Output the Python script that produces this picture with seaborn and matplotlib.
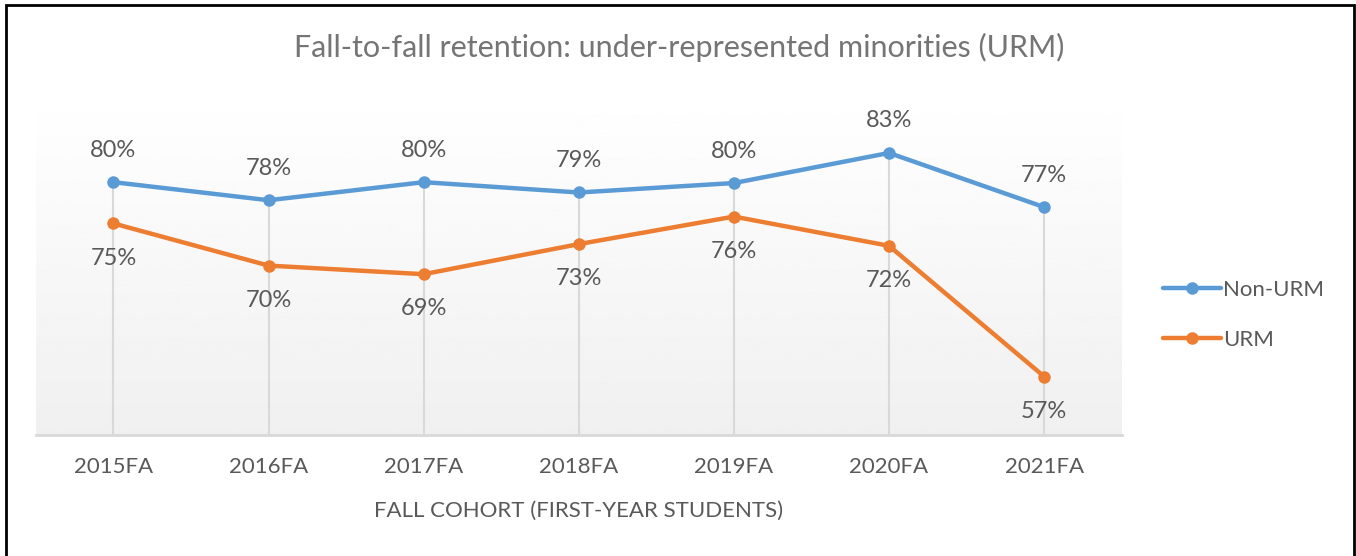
import matplotlib
matplotlib.use("Agg")
import matplotlib.pyplot as plt
from matplotlib.patches import Rectangle
import seaborn as sns
import numpy as np
import pandas as pd

cohorts = ["2015FA", "2016FA", "2017FA", "2018FA", "2019FA", "2020FA", "2021FA"]
non_urm = [0.798, 0.777, 0.798, 0.786, 0.797, 0.832, 0.769]
urm = [0.750, 0.701, 0.691, 0.726, 0.758, 0.724, 0.572]
groups = ["Non-URM", "URM"]
colors = ["#5B9BD5", "#ED7D31"]

df = pd.DataFrame({
    "cohort": cohorts * 2,
    "rate": non_urm + urm,
    "group": [groups[0]] * len(cohorts) + [groups[1]] * len(cohorts),
})

sns.set_style("white")
plt.rcParams["font.family"] = ["Lato", "DejaVu Sans"]

fig = plt.figure(figsize=(13.56, 5.56), dpi=100)
ax = fig.add_axes([0.0265, 0.2176, 0.8007, 0.6187])

# gradient plot area (white -> light gray)
grad = np.linspace(1.0, 0.94, 256).reshape(-1, 1)
ax.imshow(grad, extent=[0, 1, 0, 1], transform=ax.transAxes, aspect="auto",
          cmap="gray", vmin=0, vmax=1, zorder=0)

# drop lines from the higher point down to the axis
tops = np.maximum(non_urm, urm)
ax.vlines(range(len(cohorts)), 0.5, tops, color="#d9d9d9", lw=1.5, zorder=1)

sns.lineplot(data=df, x="cohort", y="rate", hue="group", palette=colors,
             marker="o", markersize=9, markeredgewidth=0, linewidth=3.2,
             ax=ax, zorder=3)

for i, v in enumerate(non_urm):
    ax.annotate(f"{v:.0%}", (i, v), xytext=(0, 23), textcoords="offset points",
                ha="center", va="center", fontsize=17, color="#595959")
for i, v in enumerate(urm):
    ax.annotate(f"{v:.0%}", (i, v), xytext=(0, -25), textcoords="offset points",
                ha="center", va="center", fontsize=17, color="#595959")

ax.set_xlim(-0.5, 6.5)
ax.set_ylim(0.504, 0.904)
ax.set_yticks([])
for s in ["top", "left", "right"]:
    ax.spines[s].set_visible(False)
ax.spines["bottom"].set_color("#d9d9d9")
ax.spines["bottom"].set_linewidth(2)
ax.tick_params(axis="x", length=0, pad=16, labelsize=16, labelcolor="#595959")
ax.set_xlabel("FALL COHORT (FIRST-YEAR STUDENTS)", fontsize=16, color="#595959", labelpad=17)
ax.set_ylabel("")

fig.text(0.501, 0.914, "Fall-to-fall retention: under-represented minorities (URM)",
         ha="center", va="center", fontsize=22, color="#757575")

ax.legend(loc="center left", bbox_to_anchor=(0.843, 0.433), bbox_transform=fig.transFigure,
          frameon=False, fontsize=16, labelcolor="#595959", handlelength=2.6,
          handletextpad=0.1, labelspacing=1.35)

fig.patches.append(Rectangle((6 / 1356, -0.05), 1348 / 1356, 1.05 - 5 / 556,
                             transform=fig.transFigure, fill=False,
                             edgecolor="black", lw=2, zorder=10))

fig.savefig("out.png", dpi=100)
